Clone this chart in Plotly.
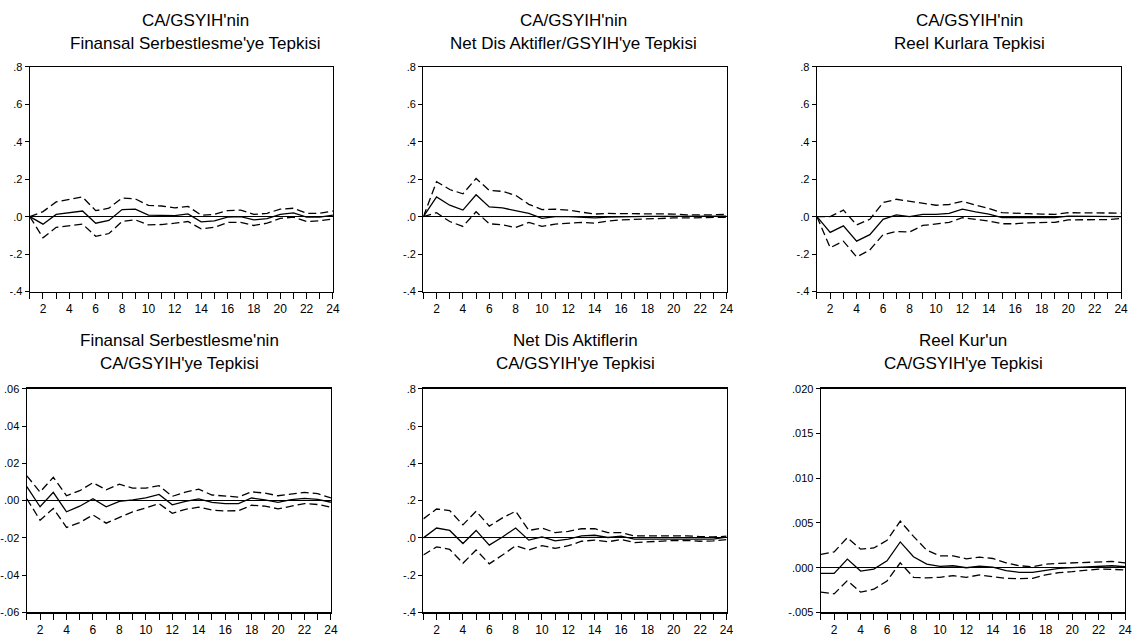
import plotly.graph_objects as go

horizon = list(range(1, 25))

# Panel 1: CA/GSYIH'nin Finansal Serbestlesme'ye Tepkisi
p1_resp = [0.0, -0.04, 0.012, 0.02, 0.03, -0.035, -0.02, 0.038, 0.04, 0.008, 0.008, 0.006,
           0.015, -0.028, -0.022, -0.003, 0.0, -0.017, -0.01, 0.012, 0.02, -0.003, -0.003, 0.008]
p1_upper = [0.0, 0.027, 0.079, 0.09, 0.105, 0.032, 0.045, 0.1, 0.095, 0.06, 0.057, 0.047,
            0.055, 0.008, 0.012, 0.032, 0.035, 0.012, 0.018, 0.04, 0.045, 0.018, 0.018, 0.03]
p1_lower = [0.0, -0.113, -0.057, -0.048, -0.04, -0.105, -0.09, -0.026, -0.017, -0.044, -0.042, -0.035,
            -0.026, -0.065, -0.057, -0.031, -0.03, -0.047, -0.035, -0.009, -0.003, -0.026, -0.022, -0.012]

# Panel 2: CA/GSYIH'nin Net Dis Aktifler/GSYIH'ye Tepkisi
p2_resp = [0.0, 0.105, 0.061, 0.035, 0.117, 0.052, 0.047, 0.03, 0.017, -0.009, 0.0, 0.0,
           -0.003, -0.007, -0.003, 0.0, 0.0, 0.001, 0.001, 0.002, 0.002, 0.002, 0.002, 0.003]
p2_upper = [0.0, 0.187, 0.145, 0.122, 0.204, 0.14, 0.135, 0.114, 0.066, 0.038, 0.04, 0.035,
            0.024, 0.014, 0.017, 0.017, 0.016, 0.014, 0.014, 0.014, 0.01, 0.009, 0.01, 0.012]
p2_lower = [0.0, 0.021, -0.026, -0.052, 0.026, -0.038, -0.044, -0.058, -0.031, -0.052, -0.04, -0.037,
            -0.031, -0.035, -0.023, -0.017, -0.014, -0.012, -0.009, -0.007, -0.007, -0.007, -0.005, -0.003]

# Panel 3: CA/GSYIH'nin Reel Kurlara Tepkisi
p3_resp = [0.0, -0.084, -0.049, -0.131, -0.096, -0.014, 0.009, 0.0, 0.012, 0.012, 0.017, 0.04,
           0.026, 0.014, -0.005, -0.005, -0.005, -0.005, -0.005, 0.003, 0.003, 0.003, 0.003, 0.0]
p3_upper = [0.0, 0.0, 0.035, -0.044, -0.014, 0.075, 0.093, 0.082, 0.073, 0.061, 0.065, 0.082,
            0.061, 0.044, 0.021, 0.017, 0.016, 0.014, 0.012, 0.021, 0.021, 0.019, 0.019, 0.019]
p3_lower = [0.0, -0.166, -0.131, -0.215, -0.178, -0.096, -0.079, -0.082, -0.047, -0.038, -0.031, -0.005,
            -0.012, -0.023, -0.038, -0.038, -0.033, -0.031, -0.03, -0.017, -0.017, -0.017, -0.016, -0.009]

# Panel 4: Finansal Serbestlesme'nin CA/GSYIH'ye Tepkisi
p4_resp = [0.0075, -0.0033, 0.0044, -0.006, -0.003, 0.001, -0.0033, -0.0004, 0.0004, 0.0014, 0.0033, -0.0023,
           -0.0004, 0.0009, -0.001, -0.0016, -0.0016, 0.0014, 0.0004, -0.0009, 0.0005, 0.0012, 0.0007, -0.0009]
p4_upper = [0.0133, 0.0046, 0.0125, 0.0026, 0.0053, 0.0096, 0.0058, 0.0088, 0.0067, 0.0067, 0.008, 0.0023,
            0.0046, 0.0061, 0.003, 0.0026, 0.0019, 0.0047, 0.004, 0.0026, 0.0035, 0.0044, 0.0037, 0.0014]
p4_lower = [0.001, -0.0105, -0.0042, -0.0144, -0.0118, -0.0077, -0.0121, -0.0091, -0.006, -0.0039, -0.0016, -0.0068,
            -0.0047, -0.0035, -0.0051, -0.0056, -0.0054, -0.0025, -0.003, -0.0044, -0.003, -0.0016, -0.0021, -0.0035]

# Panel 5: Net Dis Aktiflerin CA/GSYIH'ye Tepkisi
p5_resp = [0.0, 0.053, 0.04, -0.03, 0.04, -0.039, 0.005, 0.053, -0.012, 0.005, -0.016, -0.007,
           0.011, 0.014, 0.002, 0.009, -0.007, -0.007, -0.004, -0.004, -0.004, -0.007, -0.007, 0.004]
p5_upper = [0.102, 0.155, 0.146, 0.07, 0.143, 0.063, 0.107, 0.143, 0.04, 0.053, 0.028, 0.035,
            0.049, 0.049, 0.028, 0.028, 0.011, 0.011, 0.014, 0.011, 0.011, 0.007, 0.005, 0.009]
p5_lower = [-0.092, -0.048, -0.062, -0.136, -0.065, -0.139, -0.092, -0.042, -0.065, -0.042, -0.056, -0.042,
            -0.018, -0.012, -0.021, -0.009, -0.025, -0.021, -0.016, -0.014, -0.014, -0.018, -0.016, -0.009]

# Panel 6: Reel Kur'un CA/GSYIH'ye Tepkisi
p6_resp = [-0.00063, -0.00063, 0.00096, -0.00037, -0.00015, 0.00077, 0.00288, 0.00122, 0.0004, 0.00015, 0.00022, 0.0,
           0.00018, 0.00007, -0.00033, -0.00052, -0.00052, -0.00026, -0.00007, 0.0, 0.00007, 0.00022, 0.00022, 0.00011]
p6_upper = [0.00148, 0.00177, 0.00336, 0.00207, 0.00221, 0.00306, 0.0052, 0.0035, 0.00196, 0.00133, 0.00133, 0.001,
            0.00118, 0.00103, 0.00055, 0.00022, 0.00011, 0.0004, 0.00048, 0.00055, 0.00059, 0.0007, 0.0007, 0.00055]
p6_lower = [-0.00273, -0.00292, -0.00144, -0.00273, -0.0024, -0.00148, 0.00055, -0.00107, -0.00114, -0.00107, -0.00089, -0.00107,
            -0.00081, -0.00096, -0.00118, -0.00122, -0.00118, -0.00081, -0.00055, -0.00044, -0.00033, -0.00015, -0.00018, -0.00026]

titles = [
    ("CA/GSYIH'nin", "Finansal Serbestlesme'ye Tepkisi"),
    ("CA/GSYIH'nin", "Net Dis Aktifler/GSYIH'ye Tepkisi"),
    ("CA/GSYIH'nin", "Reel Kurlara Tepkisi"),
    ("Finansal Serbestlesme'nin", "CA/GSYIH'ye Tepkisi"),
    ("Net Dis Aktiflerin", "CA/GSYIH'ye Tepkisi"),
    ("Reel Kur'un", "CA/GSYIH'ye Tepkisi"),
]

big_ticks = [-0.4, -0.2, 0.0, 0.2, 0.4, 0.6, 0.8]
big_labels = ["-.4", "-.2", ".0", ".2", ".4", ".6", ".8"]
fs_ticks = [-0.06, -0.04, -0.02, 0.0, 0.02, 0.04, 0.06]
fs_labels = ["-.06", "-.04", "-.02", ".00", ".02", ".04", ".06"]
rk_ticks = [-0.005, 0.0, 0.005, 0.010, 0.015, 0.020]
rk_labels = ["-.005", ".000", ".005", ".010", ".015", ".020"]
x_labels = [str(h) if h % 2 == 0 else "" for h in horizon]

panels = [
    (p1_resp, p1_upper, p1_lower, big_ticks, big_labels),
    (p2_resp, p2_upper, p2_lower, big_ticks, big_labels),
    (p3_resp, p3_upper, p3_lower, big_ticks, big_labels),
    (p4_resp, p4_upper, p4_lower, fs_ticks, fs_labels),
    (p5_resp, p5_upper, p5_lower, big_ticks, big_labels),
    (p6_resp, p6_upper, p6_lower, rk_ticks, rk_labels),
]

W, H = 1140, 643
# pixel boxes (left, right, top, bottom)
boxes = [(30, 335, 62, 291), (426, 731, 62, 291), (822, 1128, 62, 291),
         (27, 333, 390, 618), (426, 731, 390, 618), (826, 1132, 390, 618)]
title_cx = [197, 577, 975, 181, 579, 969]

fig = go.Figure()
layout = dict(width=W, height=H, margin=dict(l=0, r=0, t=0, b=0),
              paper_bgcolor="white", plot_bgcolor="white", showlegend=False,
              font=dict(family="Liberation Sans, Arial, sans-serif", color="black"))
annotations = []

for i, (resp, up, lo, yt, yl) in enumerate(panels):
    n = i + 1
    xa = "x" if n == 1 else f"x{n}"
    ya = "y" if n == 1 else f"y{n}"
    for series, dash in ((up, "8px,4px"), (lo, "8px,4px"), (resp, "solid")):
        fig.add_trace(go.Scatter(x=horizon, y=series, mode="lines", xaxis=xa, yaxis=ya,
                                 line=dict(color="black", width=1.3, dash=dash),
                                 hoverinfo="skip"))
    l, r, t, b = boxes[i]
    layout[f"xaxis{'' if n == 1 else n}"] = dict(
        domain=[l / W, r / W], anchor=ya, range=[1, 24],
        tickmode="array", tickvals=horizon, ticktext=x_labels,
        ticks="outside", ticklen=6, tickwidth=1, tickcolor="black",
        showline=True, linecolor="black", linewidth=1.3, mirror=True,
        showgrid=False, zeroline=False, tickfont=dict(size=12, color="black"))
    layout[f"yaxis{'' if n == 1 else n}"] = dict(
        domain=[1 - b / H, 1 - t / H], anchor=xa, range=[yt[0], yt[-1]],
        tickmode="array", tickvals=yt, ticktext=yl,
        ticks="outside", ticklen=4, tickwidth=1, tickcolor="black",
        showline=True, linecolor="black", linewidth=1.3, mirror=True,
        showgrid=False, zeroline=True, zerolinecolor="black", zerolinewidth=1.2,
        tickfont=dict(size=11, color="black"))
    cx = title_cx[i] / W
    line1_y = 15 if i < 3 else 341
    for txt, py in ((titles[i][0], line1_y), (titles[i][1], line1_y + 23)):
        annotations.append(dict(text=txt, x=cx, y=1 - py / H, xref="paper", yref="paper",
                                xanchor="center", yanchor="middle", showarrow=False,
                                font=dict(size=17, color="black")))

layout["annotations"] = annotations
fig.update_layout(**layout)
fig.write_html("out.html", config={"displayModeBar": False, "staticPlot": True},
               post_script="document.body.style.margin='0';document.body.style.overflow='hidden';")
